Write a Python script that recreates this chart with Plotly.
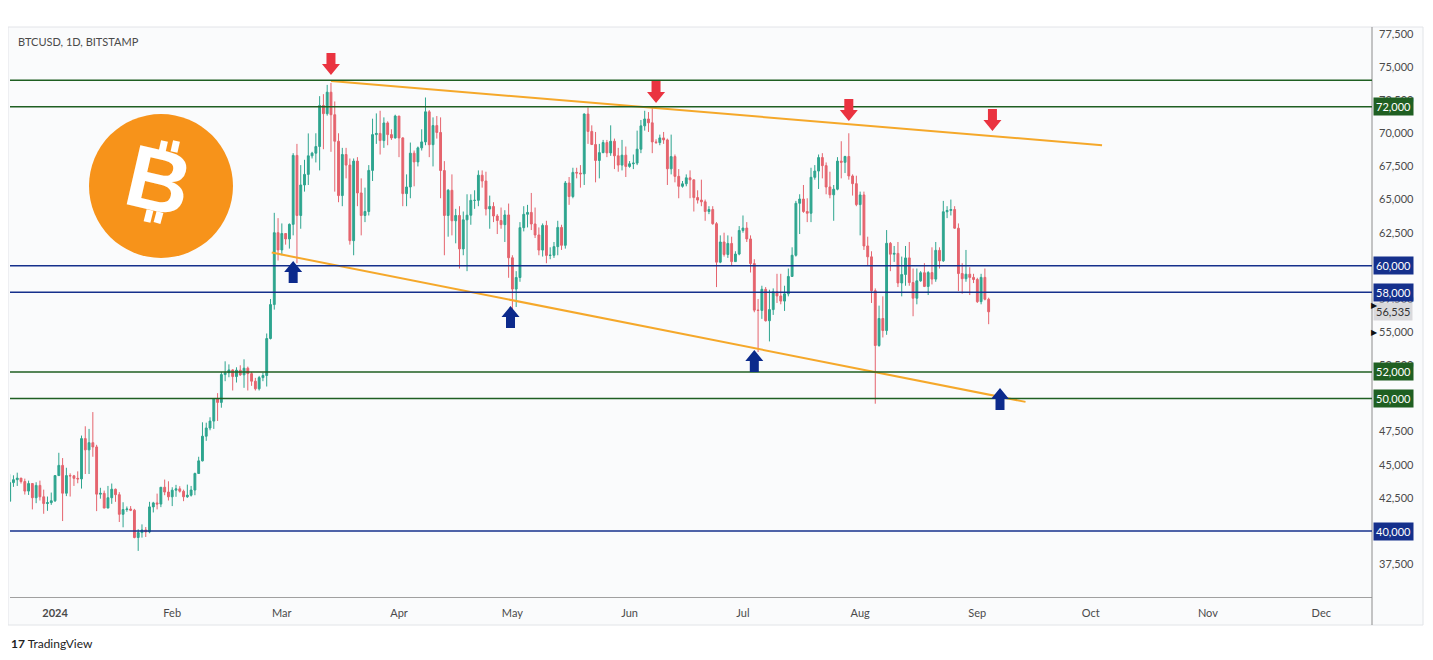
import pandas as pd
import plotly.graph_objects as go

# daily BTCUSD candles (prices in thousands of USD), first candle on start_date
start_date = "2023-12-20"

opens_k = [
    42.25, 43.65, 43.87, 43.99, 43.73, 43.01, 43.58, 42.51, 43.44, 42.58, 42.07, 42.14,  # dec
    42.28, 44.18, 44.95, 42.85, 44.18, 44.16, 43.97, 43.93, 46.97, 46.12, 46.66, 46.34, 42.78, 42.84, 41.73, 42.51,
    43.15, 42.74, 41.26, 41.62, 41.66, 41.57, 39.51, 39.88, 40.08, 39.93, 41.82, 42.12, 42.03, 43.3, 42.94,  # jan
    42.58, 43.08, 43.18, 43.0, 42.58, 42.7, 43.09, 44.34, 45.29, 47.15, 47.77, 48.29, 49.96, 49.7, 51.8, 51.94,
    52.15, 51.65, 52.13, 51.78, 52.28, 51.87, 51.3, 50.73, 51.57, 51.73, 54.52, 57.08, 62.5,  # feb
    61.2, 62.44, 62.03, 63.13, 68.33, 63.8, 66.1, 66.9, 68.3, 68.5, 69.0, 72.1, 71.48, 73.1, 71.4, 69.4,
    65.3, 68.4, 67.6, 61.9, 67.9, 65.5, 63.8, 64.1, 67.2, 69.9, 69.99, 69.45, 70.78, 69.9, 69.65,  # mar
    71.3, 69.65, 65.45, 65.95, 68.5, 67.84, 68.9, 69.35, 71.62, 69.14, 70.58, 70.06, 67.19, 63.8, 65.7,
    63.4, 63.8, 61.28, 63.47, 63.82, 64.94, 64.94, 66.84, 66.4, 64.29, 64.48, 63.76, 63.42, 63.11, 63.84,  # apr
    60.61, 58.25, 59.12, 62.88, 63.89, 64.03, 63.16, 62.33, 61.19, 63.05, 60.79, 60.8, 61.45, 62.9, 61.55, 66.25,
    65.23, 67.05, 67.0, 66.94, 71.45, 70.14, 69.15, 67.95, 68.54, 69.3, 68.52, 69.4, 68.3, 67.6, 68.35,  # may
    67.5, 67.7, 67.75, 68.8, 70.56, 71.08, 70.79, 69.35, 69.3, 69.65, 69.5, 67.32, 68.24, 66.75, 66.0,
    66.19, 66.64, 66.49, 65.15, 64.96, 64.83, 64.1, 64.25, 63.18, 60.28, 61.8, 60.86, 61.69, 60.32, 60.89,  # jun
    62.67, 62.85, 62.03, 60.17, 56.66, 56.64, 58.23, 55.86, 56.7, 58.04, 57.73, 57.34, 57.89, 59.2, 60.8, 64.72,
    65.04, 64.1, 63.97, 66.68, 67.15, 68.17, 67.56, 65.95, 65.36, 65.78, 67.9, 67.81, 68.25, 66.78, 66.2,  # jul
    64.62, 65.35, 61.5, 60.68, 58.12, 53.99, 56.03, 55.12, 61.7, 60.88, 60.94, 58.71, 59.35, 60.6, 58.74, 57.56,
    58.87, 59.48, 58.45, 59.49, 59.0, 61.17, 60.38, 64.08, 64.18, 64.25, 62.84, 59.42, 59.03, 59.37, 59.13,  # aug
    58.97, 57.3, 59.13, 57.48,  # sep
]
highs_k = [
    44.28, 44.2, 44.4, 44.0, 43.95, 43.8, 43.62, 43.68, 43.8, 43.12, 42.6, 42.9,
    44.18, 45.9, 45.5, 44.77, 44.35, 44.23, 44.5, 47.2, 47.9, 47.7, 48.97, 46.5, 43.26, 43.05, 43.4, 43.58,
    43.2, 42.93, 42.17, 41.85, 41.88, 41.67, 40.13, 40.5, 40.3, 42.2, 42.2, 42.82, 43.3, 43.88, 43.75,
    43.3, 43.48, 43.38, 43.12, 43.5, 43.4, 44.4, 45.6, 48.2, 48.17, 48.58, 50.0, 50.4, 52.0, 52.8, 52.57,
    52.2, 52.35, 52.5, 52.95, 52.4, 52.0, 51.55, 51.7, 51.95, 54.9, 57.5, 64.0, 63.6,
    63.2, 62.45, 63.2, 68.5, 69.2, 67.6, 68.0, 69.99, 68.6, 70.0, 72.8, 72.95, 73.65, 73.8, 72.4, 70.0,
    68.9, 68.9, 68.1, 68.1, 68.2, 66.6, 65.9, 67.6, 71.1, 71.5, 71.7, 71.2, 70.9, 70.3, 71.4,
    71.3, 69.7, 66.9, 69.3, 68.7, 69.0, 70.3, 72.7, 71.75, 71.2, 71.3, 71.2, 67.9, 65.8, 66.9,
    64.3, 64.5, 64.1, 65.4, 65.4, 65.7, 67.2, 67.2, 67.1, 65.3, 64.8, 63.9, 64.4, 64.2, 64.7,
    60.8, 59.6, 63.3, 64.5, 64.6, 65.5, 64.4, 62.9, 63.2, 63.4, 61.4, 61.8, 63.4, 63.1, 66.4, 66.7,
    67.4, 67.4, 67.6, 71.5, 71.95, 70.6, 70.1, 69.2, 69.5, 69.5, 70.6, 69.6, 68.9, 69.5, 69.0,
    67.9, 68.4, 70.2, 71.0, 71.7, 71.6, 71.95, 69.55, 69.9, 70.1, 69.6, 69.9, 68.4, 67.3, 66.4,
    66.9, 67.2, 66.5, 65.7, 66.5, 65.0, 64.5, 64.5, 63.3, 62.3, 62.5, 62.3, 62.2, 61.1, 63.0,
    63.8, 63.3, 62.3, 60.5, 57.5, 58.5, 58.4, 58.2, 58.3, 59.4, 59.4, 58.5, 59.8, 61.4, 64.9, 65.4,
    66.1, 65.1, 67.4, 67.6, 68.4, 68.5, 67.8, 67.1, 66.1, 68.2, 69.4, 68.3, 70.0, 66.9, 66.8,
    65.6, 65.6, 62.2, 61.1, 58.3, 57.0, 57.7, 62.7, 61.8, 61.5, 61.8, 60.7, 61.5, 61.8, 59.8, 59.8,
    59.6, 60.2, 59.6, 61.4, 61.8, 61.4, 64.9, 64.5, 65.0, 64.5, 63.2, 60.2, 61.2, 59.9, 59.4,
    59.1, 59.4, 59.8, 57.6,
]
lows_k = [
    42.2, 43.33, 43.4, 43.58, 42.75, 42.72, 41.63, 42.1, 42.3, 41.3, 41.52, 41.97,
    42.19, 44.18, 40.75, 42.63, 42.6, 43.4, 43.6, 43.2, 44.3, 44.3, 45.6, 41.5, 42.44, 41.72, 41.73, 42.05,
    42.2, 40.68, 40.28, 41.45, 41.5, 39.45, 38.5, 39.5, 39.55, 39.83, 41.4, 41.63, 41.8, 42.7, 42.3,
    41.88, 42.58, 42.9, 42.25, 42.5, 42.6, 42.7, 44.33, 45.25, 46.8, 47.6, 47.7, 48.3, 49.3, 51.3, 51.6,
    50.6, 51.2, 51.7, 50.8, 50.6, 50.95, 50.6, 50.6, 51.3, 50.9, 54.45, 56.7, 60.4,
    60.8, 61.6, 61.3, 62.3, 60.2, 62.8, 65.6, 66.1, 68.1, 67.8, 67.2, 68.8, 71.33, 68.6, 65.6, 64.8,
    64.5, 66.6, 61.6, 60.8, 64.5, 62.3, 63.3, 63.8, 66.4, 69.2, 68.4, 68.9, 69.1, 69.5, 69.6,
    68.2, 64.5, 64.5, 65.1, 66.0, 67.5, 68.7, 69.1, 68.2, 67.5, 69.6, 65.1, 60.8, 62.2, 62.3,
    61.7, 59.8, 60.8, 59.6, 63.1, 64.3, 64.5, 65.9, 63.8, 62.8, 63.3, 62.4, 62.8, 61.8, 59.1,
    56.55, 56.9, 58.8, 62.6, 62.9, 62.7, 62.1, 60.8, 60.7, 60.2, 60.5, 60.6, 60.8, 61.2, 61.3, 64.6,
    65.1, 66.6, 65.9, 66.1, 69.2, 69.2, 66.3, 66.6, 68.5, 68.2, 68.3, 67.3, 67.1, 67.2, 66.7,
    67.4, 67.3, 67.6, 68.5, 70.2, 70.1, 68.5, 69.2, 69.1, 69.2, 66.1, 66.9, 66.3, 65.1, 65.9,
    66.0, 65.1, 64.1, 64.7, 64.5, 63.4, 63.9, 63.1, 58.4, 60.2, 60.7, 60.6, 60.0, 60.3, 60.8,
    62.5, 61.8, 59.5, 56.5, 53.5, 56.0, 55.8, 54.3, 56.3, 57.2, 57.1, 56.6, 57.7, 59.2, 60.7, 62.4,
    64.0, 63.3, 63.3, 66.5, 65.8, 66.6, 65.4, 65.1, 63.4, 65.7, 66.6, 67.0, 66.5, 65.3, 64.5,
    62.3, 61.2, 60.0, 57.2, 49.6, 53.9, 54.6, 54.8, 59.6, 60.3, 58.4, 57.7, 58.5, 58.5, 56.2, 57.1,
    58.8, 58.4, 57.8, 58.6, 58.8, 59.8, 60.3, 63.6, 63.8, 62.8, 58.1, 57.9, 58.8, 57.8, 58.7,
    57.2, 57.1, 57.4, 55.6,
]
closes_k = [
    43.65, 43.87, 43.99, 43.73, 43.01, 43.58, 42.51, 43.44, 42.58, 42.07, 42.14, 42.28,
    44.18, 44.95, 42.85, 44.18, 44.16, 43.97, 43.93, 46.97, 46.12, 46.66, 46.34, 42.78, 42.84, 41.73, 42.51, 43.15,
    42.74, 41.26, 41.62, 41.66, 41.57, 39.51, 39.88, 40.08, 39.93, 41.82, 42.12, 42.03, 43.3, 42.94, 42.58,
    43.08, 43.18, 43.0, 42.58, 42.7, 43.09, 44.34, 45.29, 47.15, 47.77, 48.29, 49.96, 49.7, 51.8, 51.94, 52.15,
    51.65, 52.13, 51.78, 52.28, 51.87, 51.3, 50.73, 51.57, 51.73, 54.52, 57.08, 62.5, 61.2,
    62.44, 62.03, 63.13, 68.33, 63.8, 66.1, 66.9, 68.3, 68.5, 69.0, 72.1, 71.48, 73.1, 71.4, 69.4, 65.3,
    68.4, 67.6, 61.9, 67.9, 65.5, 63.8, 64.1, 67.2, 69.9, 69.99, 69.45, 70.78, 69.9, 69.65, 71.3,
    69.65, 65.45, 65.95, 68.5, 67.84, 68.9, 69.35, 71.62, 69.14, 70.58, 70.06, 67.19, 63.8, 65.7, 63.4,
    63.8, 61.28, 63.47, 63.82, 64.94, 64.94, 66.84, 66.4, 64.29, 64.48, 63.76, 63.42, 63.11, 63.84, 60.61,
    58.25, 59.12, 62.88, 63.89, 64.03, 63.16, 62.33, 61.19, 63.05, 60.79, 60.8, 61.45, 62.9, 61.55, 66.25, 65.23,
    67.05, 67.0, 66.94, 71.45, 70.14, 69.15, 67.95, 68.54, 69.3, 68.52, 69.4, 68.3, 67.6, 68.35, 67.5,
    67.7, 67.75, 68.8, 70.56, 71.08, 70.79, 69.35, 69.3, 69.65, 69.5, 67.32, 68.24, 66.75, 66.0, 66.19,
    66.64, 66.49, 65.15, 64.96, 64.83, 64.1, 64.25, 63.18, 60.28, 61.8, 60.86, 61.69, 60.32, 60.89, 62.67,
    62.85, 62.03, 60.17, 56.66, 56.64, 58.23, 55.86, 56.7, 58.04, 57.73, 57.34, 57.89, 59.2, 60.8, 64.72, 65.04,
    64.1, 63.97, 66.68, 67.15, 68.17, 67.56, 65.95, 65.36, 65.78, 67.9, 67.81, 68.25, 66.78, 66.2, 64.62,
    65.35, 61.5, 60.68, 58.12, 53.99, 56.03, 55.12, 61.7, 60.88, 60.94, 58.71, 59.35, 60.6, 58.74, 57.56, 58.87,
    59.48, 58.45, 59.49, 59.0, 61.17, 60.38, 64.08, 64.18, 64.25, 62.84, 59.42, 59.03, 59.37, 59.13, 58.97,
    57.3, 59.13, 57.48, 56.535,
]

# horizontal support / resistance levels
green_levels = [74000, 72000, 52000, 50000]
blue_levels = [60000, 58000, 40000]
unlabeled_levels = [74000]
last_price = 56535
marker_prices = [57050, 55000]

# channel trendlines
upper_trend_dates = ["2024-03-14", "2024-10-04"]
upper_trend_prices = [73940, 69100]
lower_trend_dates = ["2024-02-27 08:00", "2024-09-13 18:00"]
lower_trend_prices = [61000, 49740]

# arrows (tip position)
sell_arrow_dates = ["2024-03-14", "2024-06-08", "2024-07-29", "2024-09-05"]
sell_arrow_prices = [74400, 72280, 70930, 70170]
buy_arrow_dates = ["2024-03-04", "2024-04-30 12:00", "2024-07-04", "2024-09-07"]
buy_arrow_prices = [60370, 56970, 53650, 50790]

month_ticks = ["2024-01-01", "2024-02-01", "2024-03-01", "2024-04-01", "2024-05-01", "2024-06-01",
               "2024-07-01", "2024-08-01", "2024-09-01", "2024-10-01", "2024-11-01", "2024-12-01"]
month_labels = ["<b>2024</b>", "Feb", "Mar", "Apr", "May", "Jun", "Jul", "Aug", "Sep", "Oct", "Nov", "Dec"]
price_ticks = [37500, 42500, 45000, 47500, 52500, 55000, 57500, 62500, 65000, 67500, 70000, 72500, 75000, 77500]

UP = "#2ea58f"
DOWN = "#e5646e"
GREEN = "#1f5f22"
BLUE = "#15308c"
ORANGE = "#f5a82a"
FONT = "Lato"

# plot area in screen pixels: x 10..1372, y 27..597 (page body has an 8px margin)
PW, PH = 1362, 570


def px(x):
    return (x - 10) / PW


def py(y):
    return (597 - y) / PH


assert len(opens_k) == len(highs_k) == len(lows_k) == len(closes_k)
dates = pd.date_range(start_date, periods=len(closes_k), freq="D")

fig = go.Figure()
fig.add_trace(
    go.Candlestick(
        x=dates,
        open=[v * 1000 for v in opens_k],
        high=[v * 1000 for v in highs_k],
        low=[v * 1000 for v in lows_k],
        close=[v * 1000 for v in closes_k],
        increasing=dict(line=dict(color=UP, width=1), fillcolor=UP),
        decreasing=dict(line=dict(color=DOWN, width=1), fillcolor=DOWN),
        whiskerwidth=0,
        showlegend=False,
    )
)
for tdates, tprices in [(upper_trend_dates, upper_trend_prices), (lower_trend_dates, lower_trend_prices)]:
    fig.add_trace(
        go.Scatter(x=tdates, y=tprices, mode="lines", line=dict(color=ORANGE, width=2),
                   showlegend=False, hoverinfo="skip")
    )

shapes = []
annotations = []

# chart frame and axis areas
shapes.append(dict(type="rect", xref="paper", yref="paper", x0=px(8), x1=px(1423), y0=py(625), y1=1,
                   line=dict(color="#e2e4e8", width=1), fillcolor="#fafbfc", layer="below"))
shapes.append(dict(type="line", xref="paper", yref="paper", x0=1, x1=1, y0=py(625), y1=1,
                   line=dict(color="#8c8c8c", width=1)))

for levels, color in [(green_levels, GREEN), (blue_levels, BLUE)]:
    for lv in levels:
        shapes.append(dict(type="line", xref="paper", yref="y", x0=0, x1=1, y0=lv, y1=lv,
                           line=dict(color=color, width=1.5)))
        if lv in unlabeled_levels:
            continue
        annotations.append(dict(xref="paper", yref="y", x=1, y=lv, xanchor="left", yanchor="middle",
                                xshift=1, text=f"{lv:,}", showarrow=False, bgcolor=color, borderpad=2,
                                font=dict(color="white", size=11, family=FONT)))

annotations.append(dict(xref="paper", yref="y", x=1, y=last_price, xanchor="left", yanchor="middle",
                        xshift=1, text=f"{last_price:,}", showarrow=False, bgcolor="#d9d9dc", borderpad=2,
                        font=dict(color="#333333", size=11, family=FONT)))
for mp in marker_prices:
    annotations.append(dict(xref="paper", yref="y", x=1, y=mp, xanchor="left", yanchor="middle",
                            xshift=-3, text="▶", showarrow=False, font=dict(color="#111111", size=8)))

# arrows
down_path = "M0,0 L-9,11 L-4.5,11 L-4.5,22 L4.5,22 L4.5,11 L9,11 Z"
up_path = "M0,0 L-9,-11 L-4.5,-11 L-4.5,-22 L4.5,-22 L4.5,-11 L9,-11 Z"
for d, p in zip(sell_arrow_dates, sell_arrow_prices):
    shapes.append(dict(type="path", xref="x", yref="y", xsizemode="pixel", ysizemode="pixel",
                       xanchor=d, yanchor=p, path=down_path, fillcolor="#ea3340", line=dict(width=0)))
for d, p in zip(buy_arrow_dates, buy_arrow_prices):
    shapes.append(dict(type="path", xref="x", yref="y", xsizemode="pixel", ysizemode="pixel",
                       xanchor=d, yanchor=p, path=up_path, fillcolor="#0c2a8c", line=dict(width=0)))

# bitcoin logo
cx, cy = px(161), py(186)
shapes.append(dict(type="circle", xref="paper", yref="paper", xsizemode="pixel", ysizemode="pixel",
                   xanchor=cx, yanchor=cy, x0=-72, x1=72, y0=-72, y1=72,
                   fillcolor="#f7931a", line=dict(width=0)))
for x0, y0, x1, y1 in [(1, 34, 3.5, 45), (13, 34, 15.5, 45), (-11, -24, -14, -36), (-1, -26, -4, -37)]:
    shapes.append(dict(type="line", xref="paper", yref="paper", xsizemode="pixel", ysizemode="pixel",
                       xanchor=cx, yanchor=cy, x0=x0, y0=y0, x1=x1, y1=y1,
                       line=dict(color="white", width=7)))
annotations.append(dict(xref="paper", yref="paper", x=px(159), y=py(181), xanchor="center", yanchor="middle",
                        text="<b>B</b>", textangle=13, showarrow=False,
                        font=dict(color="white", size=88, family="Liberation Sans")))

annotations.append(dict(xref="paper", yref="paper", x=px(16), y=py(42), xanchor="left", yanchor="middle",
                        text="BTCUSD, 1D, BITSTAMP", showarrow=False,
                        font=dict(color="#4a4a4a", size=11, family=FONT)))
annotations.append(dict(xref="paper", yref="paper", x=px(9), y=py(643), xanchor="left", yanchor="middle",
                        text="<b>17</b> TradingView", showarrow=False,
                        font=dict(color="#222222", size=12, family=FONT)))

fig.update_layout(
    width=1425,
    height=652,
    margin=dict(l=2, r=61, t=19, b=63),
    paper_bgcolor="white",
    plot_bgcolor="#f9fafd",
    showlegend=False,
    font=dict(family=FONT, size=11, color="#4a4a4a"),
    shapes=shapes,
    annotations=annotations,
    xaxis=dict(
        type="date",
        range=["2023-12-20 02:00", "2024-12-14 10:00"],
        rangeslider=dict(visible=False),
        tickvals=month_ticks,
        ticktext=month_labels,
        showgrid=False,
        zeroline=False,
        showline=True,
        linecolor="#a0a0a0",
        ticks="",
        ticklabelstandoff=6,
        tickfont=dict(size=11, color="#4a4a4a", family=FONT),
    ),
    yaxis=dict(
        side="right",
        range=[35022, 78017],
        tickvals=price_ticks,
        tickformat=",",
        showgrid=False,
        zeroline=False,
        showline=False,
        ticks="",
        ticklabelstandoff=6,
        tickfont=dict(size=11, color="#4a4a4a", family=FONT),
    ),
)

fig.write_html("out.html")
